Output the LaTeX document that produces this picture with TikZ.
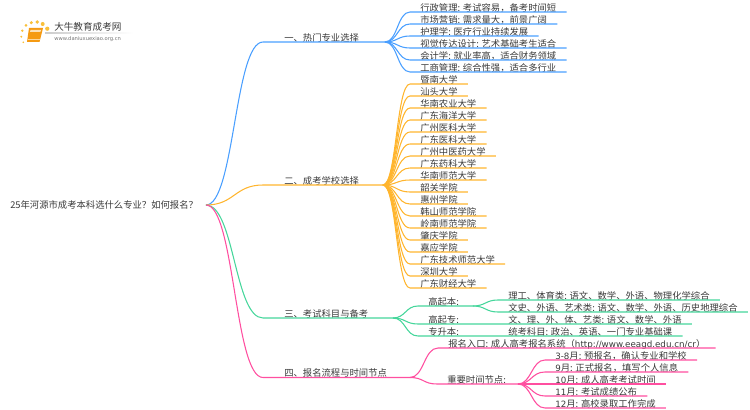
\documentclass[tikz,border=0pt]{standalone}
\usepackage{fontspec}
\setmainfont{Noto Sans CJK SC}
\newfontfamily\latfont{DejaVu Sans}
\definecolor{txtgray}{HTML}{3A3A3A}
\definecolor{mapblue}{HTML}{4A9FFF}
\definecolor{maporange}{HTML}{FFB52E}
\definecolor{mapgreen}{HTML}{45D69B}
\definecolor{mappink}{HTML}{FF4FA0}
\definecolor{bookorange}{HTML}{F59A12}
\definecolor{dotyellow}{HTML}{F9C03A}
\tikzstyle{txt}=[text=txtgray,font=\fontsize{7pt}{8pt}\selectfont,
                 text height=5.8pt,text depth=0pt,inner ysep=0.3pt,anchor=south west]
\tikzstyle{leaf}=[txt,inner xsep=7.5pt]
\tikzstyle{branch}=[txt,inner xsep=15.75pt]
\tikzstyle{blueline}=[draw=mapblue,line width=0.8pt]
\tikzstyle{orangeline}=[draw=maporange,line width=0.8pt]
\tikzstyle{greenline}=[draw=mapgreen,line width=0.8pt]
\tikzstyle{pinkline}=[draw=mappink,line width=0.8pt]
\tikzstyle{logodot}=[circle,fill=dotyellow,inner sep=0pt]

\begin{document}
\begin{tikzpicture}[x=0.75pt,y=-0.75pt]
    \useasboundingbox (0,0) rectangle (750,410);
    % logo
    \path[left color=black!20,right color=white,middle color=black!10] (45,32.6) rectangle (133,33.4);
    \fill[bookorange] (29,28) -- (43,28) -- (39.5,42) -- (27,42) -- cycle;
    \fill[white!70!bookorange] (30.5,30) -- (41,30) -- (40.4,32) -- (30,32) -- cycle;
    \draw[white!60!bookorange,line width=0.5pt] (28,39.8) -- (39.5,39.8);
    \node (d1) at (22.3,30.7) [logodot,minimum size=2pt]{};
    \node (d2) at (26,25.3) [logodot,minimum size=2.2pt]{};
    \node (d3) at (31.3,22.7) [logodot,minimum size=2.6pt]{};
    \node (d4) at (37.3,22) [logodot,minimum size=2.8pt]{};
    \node (d5) at (42.7,24) [logodot,minimum size=3pt]{};
    \node (d6) at (47.3,28.7) [logodot,minimum size=3.2pt]{};
    \node (d7) at (21.3,36.7) [logodot,minimum size=1.6pt]{};
    \node (d8) at (23.3,42.3) [logodot,minimum size=1.4pt]{};
    \node (logoname) at (54,27) [anchor=west,inner sep=0pt,text=txtgray,font=\fontsize{7.2pt}{8pt}\selectfont]{大牛教育成考网};
    \node (logourl) at (54,38.7) [anchor=west,inner sep=0pt,text=black!55,font=\latfont\fontsize{3.9pt}{5pt}\selectfont]{www.daniuxuexiao.org.cn};
    % root
    \node (root) at (10,205) [anchor=west,inner sep=0pt,text=txtgray,font=\fontsize{7pt}{8pt}\selectfont]{25年河源市成考本科选什么专业？如何报名？};
    \coordinate (j0) at (206,205);
    % branches
    \node (b1) at (263,42) [branch]{一、热门专业选择};
    \node (b2) at (263,185) [branch]{二、成考学校选择};
    \node (b3) at (263,318) [branch]{三、考试科目与备考};
    \node (b4) at (263,377.5) [branch]{四、报名流程与时间节点};
    \coordinate (j1) at (385,42);
    \coordinate (j2) at (383,185);
    \coordinate (j3) at (393,318);
    \coordinate (j4) at (410,377.5);
    % majors
    \node (a1) at (410,12) [leaf]{行政管理: 考试容易，备考时间短};
    \node (a2) at (410,24) [leaf]{市场营销: 需求量大，前景广阔};
    \node (a3) at (410,36) [leaf]{护理学: 医疗行业持续发展};
    \node (a4) at (410,48) [leaf]{视觉传达设计: 艺术基础考生适合};
    \node (a5) at (410,60) [leaf]{会计学: 就业率高，适合财务领域};
    \node (a6) at (410,72) [leaf]{工商管理: 综合性强，适合多行业};
    % schools
    \node (s1) at (410,84) [leaf]{暨南大学};
    \node (s2) at (410,96) [leaf]{汕头大学};
    \node (s3) at (410,108) [leaf]{华南农业大学};
    \node (s4) at (410,120) [leaf]{广东海洋大学};
    \node (s5) at (410,132) [leaf]{广州医科大学};
    \node (s6) at (410,144) [leaf]{广东医科大学};
    \node (s7) at (410,156) [leaf]{广州中医药大学};
    \node (s8) at (410,168) [leaf]{广东药科大学};
    \node (s9) at (410,180) [leaf]{华南师范大学};
    \node (s10) at (410,192) [leaf]{韶关学院};
    \node (s11) at (410,204) [leaf]{惠州学院};
    \node (s12) at (410,216) [leaf]{韩山师范学院};
    \node (s13) at (410,228) [leaf]{岭南师范学院};
    \node (s14) at (410,240) [leaf]{肇庆学院};
    \node (s15) at (410,252) [leaf]{嘉应学院};
    \node (s16) at (410,264) [leaf]{广东技术师范大学};
    \node (s17) at (410,276) [leaf]{深圳大学};
    \node (s18) at (410,288) [leaf]{广东财经大学};
    % subjects
    \node (g1) at (418,306) [leaf]{高起本:};
    \node (g2) at (418,324) [leaf]{高起专:};
    \node (g3) at (418,336) [leaf]{专升本:};
    \coordinate (j3b) at (473,306);
    \node (k1) at (498,300) [leaf]{理工、体育类: 语文、数学、外语、物理化学综合};
    \node (k2) at (498,312) [leaf]{文史、外语、艺术类: 语文、数学、外语、历史地理综合};
    \node (k3) at (498,324) [leaf]{文、理、外、体、艺类: 语文、数学、外语};
    \node (k4) at (498,336) [leaf]{统考科目: 政治、英语、一门专业基础课};
    % signup
    \node (p1) at (438,348) [leaf]{报名入口: 成人高考报名系统（{\latfont\fontsize{6.55pt}{8pt}\selectfont http://www.eeagd.edu.cn/cr}）};
    \node (p2) at (437,384) [leaf]{重要时间节点:};
    \coordinate (j4b) at (518,384);
    \node (t1) at (545,360) [leaf]{{\latfont\fontsize{6.5pt}{8pt}\selectfont 3-8}月: 预报名，确认专业和学校};
    \node (t2) at (545,372) [leaf]{{\latfont\fontsize{6.5pt}{8pt}\selectfont 9}月: 正式报名，填写个人信息};
    \node (t3) at (545,384) [leaf]{{\latfont\fontsize{6.5pt}{8pt}\selectfont 10}月: 成人高考考试时间};
    \node (t4) at (545,396) [leaf]{{\latfont\fontsize{6.5pt}{8pt}\selectfont 11}月: 考试成绩公布};
    \node (t5) at (545,408) [leaf]{{\latfont\fontsize{6.5pt}{8pt}\selectfont 12}月: 高校录取工作完成};
    % connectors
    \draw[blueline] (j0) .. controls +(28.5,0) and +(-28.5,0) .. (b1.south west) -- (j1);
    \draw[orangeline] (j0) .. controls +(28.5,0) and +(-28.5,0) .. (b2.south west) -- (j2);
    \draw[greenline] (j0) .. controls +(28.5,0) and +(-28.5,0) .. (b3.south west) -- (j3);
    \draw[pinkline] (j0) .. controls +(28.5,0) and +(-28.5,0) .. (b4.south west) -- (j4);
    \foreach \i in {1,...,6}
      \draw[blueline] (j1) .. controls +(12.5,0) and +(-12.5,0) .. (a\i.south west) -- (a\i.south east);
    \foreach \i in {1,...,18}
      \draw[orangeline] (j2) .. controls +(13.5,0) and +(-13.5,0) .. (s\i.south west) -- (s\i.south east);
    \draw[greenline] (j3) .. controls +(12.5,0) and +(-12.5,0) .. (g1.south west) -- (j3b);
    \draw[greenline] (j3b) .. controls +(12.5,0) and +(-12.5,0) .. (k1.south west) -- (k1.south east);
    \draw[greenline] (j3b) .. controls +(12.5,0) and +(-12.5,0) .. (k2.south west) -- (k2.south east);
    \draw[greenline] (j3) .. controls +(12.5,0) and +(-12.5,0) .. (g2.south west) -- (k3.south east);
    \draw[greenline] (j3) .. controls +(12.5,0) and +(-12.5,0) .. (g3.south west) -- (k4.south east);
    \draw[pinkline] (j4) .. controls +(14,0) and +(-14,0) .. (p1.south west) -- (p1.south east);
    \draw[pinkline] (j4) .. controls +(14,0) and +(-14,0) .. (p2.south west) -- (j4b);
    \foreach \i in {1,...,5}
      \draw[pinkline] (j4b) .. controls +(13.5,0) and +(-13.5,0) .. (t\i.south west) -- (t\i.south east);
\end{tikzpicture}
\end{document}
